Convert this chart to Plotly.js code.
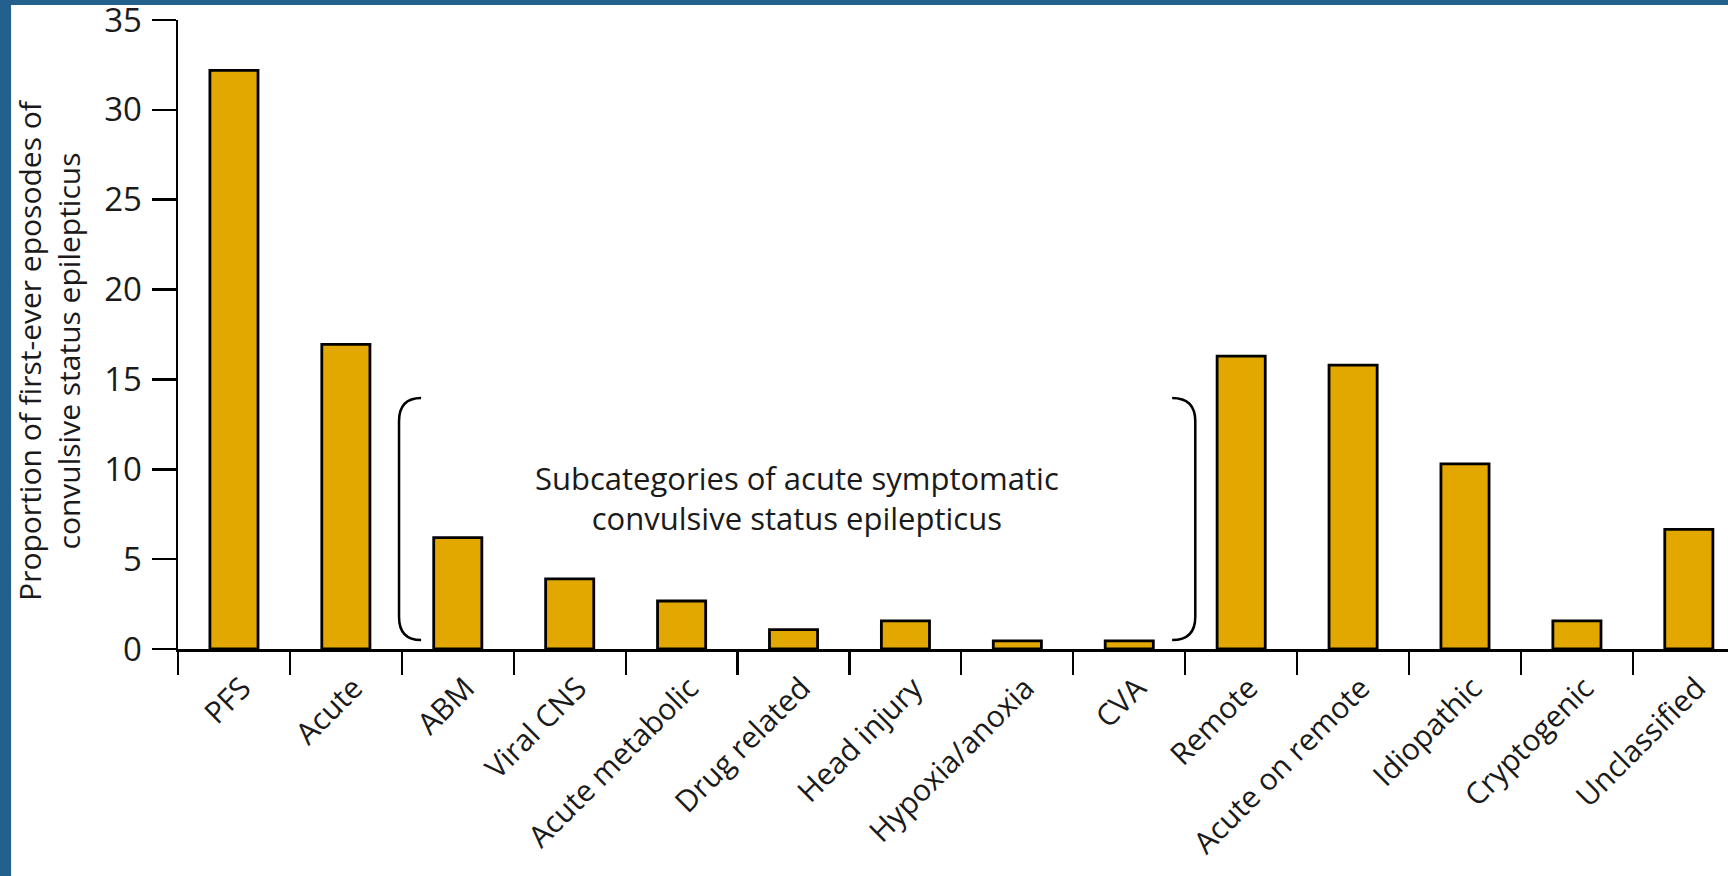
<!DOCTYPE html>
<html>
<head>
<meta charset="utf-8">
<script src="https://cdn.plot.ly/plotly-3.0.1.min.js"></script>
<style>
html,body{margin:0;padding:0;background:#ffffff;}
#chart{width:1728px;height:876px;}
</style>
</head>
<body>
<div id="chart"></div>
<script>
const categories = ["PFS","Acute","ABM","Viral CNS","Acute metabolic","Drug related","Head injury","Hypoxia/anoxia","CVA","Remote","Acute on remote","Idiopathic","Cryptogenic","Unclassified"];
const values = [32.2, 16.95, 6.2, 3.9, 2.67, 1.08, 1.57, 0.45, 0.45, 16.3, 15.8, 10.3, 1.57, 6.66];
const yTickVals = [0, 5, 10, 15, 20, 25, 30, 35];
const yTitle = "Proportion of first-ever eposodes of<br>convulsive status epilepticus";
const noteText = "Subcategories of acute symptomatic<br>convulsive status epilepticus";

const FONT = "Open Sans, Noto Sans, sans-serif";
const bracketTop = 13.97, bracketBot = 0.5;
function bracket(xv, xe){
  const r = 1.3;
  return `M ${xe},${bracketTop} Q ${xv},${bracketTop} ${xv},${bracketTop - r} L ${xv},${bracketBot + r} Q ${xv},${bracketBot} ${xe},${bracketBot}`;
}

const trace = {
  type: "bar",
  x: categories,
  y: values,
  marker: {color: "#E3A800", line: {color: "#000000", width: 2.8}},
  hoverinfo: "x+y"
};

const layout = {
  width: 1728,
  height: 876,
  margin: {l: 178, r: 0, t: 20, b: 227},
  paper_bgcolor: "#23608E",
  plot_bgcolor: "rgba(0,0,0,0)",
  showlegend: false,
  bargap: 0.57,
  font: {family: FONT, color: "#1a1a1a"},
  xaxis: {
    type: "category",
    range: [-0.5, 13.35],
    tickson: "boundaries",
    ticks: "outside",
    ticklen: 23,
    tickwidth: 2.2,
    tickcolor: "#000",
    showline: true,
    linecolor: "#000",
    linewidth: 2.5,
    showgrid: false,
    zeroline: false,
    tickangle: -45,
    ticklabelstandoff: 7,
    ticklabelshift: 8,
    tickfont: {size: 30, family: FONT, color: "#1a1a1a"},
    automargin: false
  },
  yaxis: {
    range: [0, 35],
    tickvals: yTickVals,
    ticks: "outside",
    ticklen: 24,
    tickwidth: 2.5,
    tickcolor: "#000",
    showline: true,
    linecolor: "#000",
    linewidth: 2.5,
    showgrid: false,
    zeroline: false,
    ticklabelstandoff: 3,
    ticklabeloverflow: "allow",
    tickfont: {size: 33, family: FONT, color: "#1a1a1a"},
    automargin: false
  },
  shapes: [
    {type: "rect", xref: "paper", yref: "paper", x0: -0.1077, x1: 1.02, y0: -0.4, y1: 1.0238,
     fillcolor: "#ffffff", line: {width: 0}, layer: "below"},
    {type: "path", xref: "x", yref: "y", path: bracket(1.475, 1.672), line: {color: "#000", width: 2.5}},
    {type: "path", xref: "x", yref: "y", path: bracket(8.59, 8.383), line: {color: "#000", width: 2.5}}
  ],
  annotations: [
    {xref: "paper", yref: "paper", x: -0.0828, y: 0.475, xanchor: "center", yanchor: "middle",
     text: yTitle, textangle: -90, showarrow: false, align: "center",
     font: {size: 30, family: FONT, color: "#1a1a1a"}},
    {xref: "x", yref: "y", x: 5.03, y: 8.43, text: noteText, showarrow: false,
     font: {size: 31, family: FONT, color: "#1a1a1a"},
     align: "center"}
  ]
};

Plotly.newPlot("chart", [trace], layout, {displayModeBar: false, staticPlot: true});
</script>
</body>
</html>
